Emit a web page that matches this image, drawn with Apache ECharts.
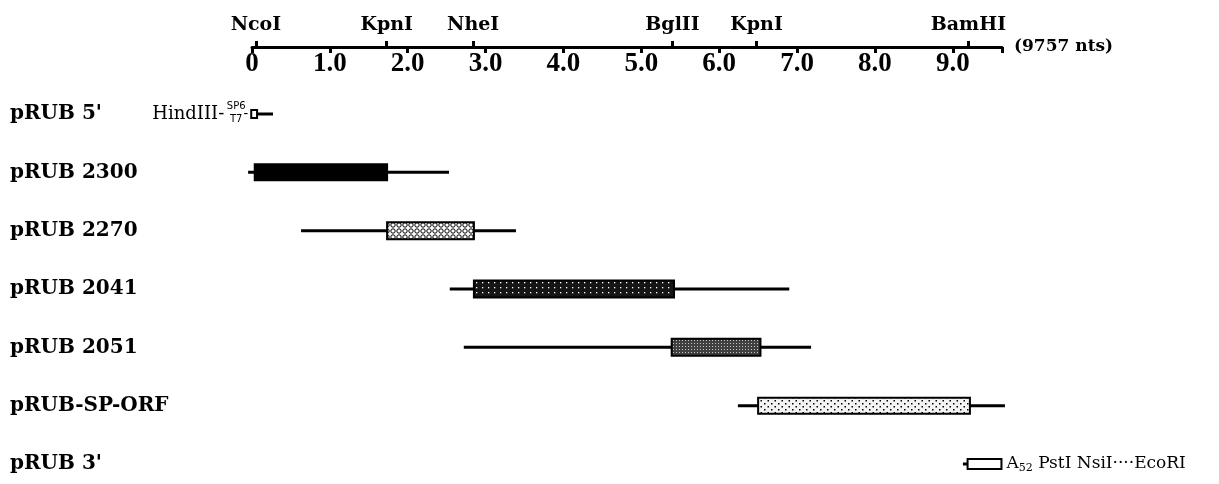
<!DOCTYPE html>
<html>
<head>
<meta charset="utf-8">
<script src="https://cdn.jsdelivr.net/npm/echarts@6/dist/echarts.min.js"></script>
<style>
html,body{margin:0;padding:0;background:#fff;}
#chart{width:1219px;height:484px;}
</style>
</head>
<body>
<div id="chart"></div>
<script>
// ---- data (kb along the 9757-nt genome) ----
const rows = ["pRUB 5'", 'pRUB 2300', 'pRUB 2270', 'pRUB 2041', 'pRUB 2051', 'pRUB-SP-ORF', "pRUB 3'"];
const lineStart = [0.065, -0.05, 0.63, 2.54, 2.72, 6.24, 9.13];
const lineEnd   = [0.27, 2.53, 3.39, 6.90, 7.18, 9.67, 9.19];
const boxStart  = [-0.01, 0.035, 1.735, 2.85, 5.39, 6.50, 9.19];
const boxEnd    = [0.065, 1.735, 2.85, 5.42, 6.53, 9.22, 9.625];
const scaleTicks = [0, 1, 2, 3, 4, 5, 6, 7, 8, 9];
const scaleTickLabels = ['0', '1.0', '2.0', '3.0', '4.0', '5.0', '6.0', '7.0', '8.0', '9.0'];
const genomeEnd = 9.632;
const siteNames = ['NcoI', 'KpnI', 'NheI', 'BglII', 'KpnI', 'BamHI'];
const sitePos   = [0.05, 1.73, 2.84, 5.40, 6.48, 9.20];
const lengthNote = '(9757 nts)';
const note5 = ['HindIII-', 'SP6', 'T7', '-'];
const note3 = ['A', '52', ' PstI NsiI····EcoRI'];

// ---- styles ----
function makePattern(w, h, bg, draw) {
  const c = document.createElement('canvas');
  c.width = w; c.height = h;
  const g = c.getContext('2d');
  g.fillStyle = bg; g.fillRect(0, 0, w, h);
  draw(g);
  return { image: c, repeat: 'repeat' };
}
const patSolid = '#000';
const pat2270 = makePattern(6, 6, '#fff', g => {
  g.strokeStyle = '#000'; g.lineWidth = 1;
  g.beginPath(); g.arc(3, 3, 2.2, 0, Math.PI * 2); g.stroke();
});
const pat2041 = makePattern(6, 5, '#151515', g => {
  g.fillStyle = '#fff'; g.fillRect(2, 2, 1.3, 1.3);
});
const pat2051 = makePattern(3, 3, '#404040', g => {
  g.fillStyle = '#c8c8c8'; g.fillRect(1, 1, 1, 1);
});
const patSP = makePattern(7, 6, '#f4f4f4', g => {
  g.fillStyle = '#000';
  g.fillRect(1, 1, 1.5, 1.5); g.fillRect(4.5, 4, 1.5, 1.5);
});
const rowFill = ['#fff', patSolid, pat2270, pat2041, pat2051, patSP, '#fff'];
const rowBoxH = [8, 16, 17, 17, 17, 16, 10];

const serifBold = { fontFamily: 'DejaVu Serif', fontWeight: 'bold', color: '#000' };

const seriesData = rows.map((r, i) => [i, lineStart[i], lineEnd[i], boxStart[i], boxEnd[i]]);

function renderRow(params, api) {
  const i = api.value(0);
  const y = api.coord([0, i])[1];
  const ls = api.coord([api.value(1), i])[0];
  const le = api.coord([api.value(2), i])[0];
  const bs = api.coord([api.value(3), i])[0];
  const be = api.coord([api.value(4), i])[0];
  const h = rowBoxH[i];
  const children = [
    { type: 'rect', shape: { x: ls, y: y - 1.5, width: le - ls, height: 3 }, style: { fill: '#000' } },
    { type: 'rect', shape: { x: bs, y: y - h / 2, width: be - bs, height: h },
      style: { fill: rowFill[i], stroke: '#000', lineWidth: 2 } }
  ];
  if (i === 0) {
    children.push(
      { type: 'text', x: bs - 27, y: y, style: { text: note5[0], fontFamily: 'DejaVu Serif', fontSize: 18, fill: '#000', align: 'right', verticalAlign: 'middle' } },
      { type: 'text', x: bs - 15, y: y - 8, style: { text: note5[1], fontFamily: 'DejaVu Sans', fontSize: 10, fill: '#000', align: 'center', verticalAlign: 'middle' } },
      { type: 'text', x: bs - 15, y: y + 5, style: { text: note5[2], fontFamily: 'DejaVu Sans', fontSize: 10, fill: '#000', align: 'center', verticalAlign: 'middle' } },
      { type: 'text', x: bs - 3, y: y, style: { text: note5[3], fontFamily: 'DejaVu Serif', fontSize: 14, fill: '#000', align: 'right', verticalAlign: 'middle' } }
    );
  }
  if (i === rows.length - 1) {
    children.push({
      type: 'text', x: be + 5, y: y,
      style: {
        text: '{a|' + note3[0] + '}{s|' + note3[1] + '}{a|' + note3[2] + '}',
        fill: '#000', align: 'left', verticalAlign: 'middle',
        rich: {
          a: { fontFamily: 'DejaVu Serif', fontSize: 17, lineHeight: 20, fill: '#000' },
          s: { fontFamily: 'DejaVu Serif', fontSize: 11, lineHeight: 11, verticalAlign: 'bottom', fill: '#000' }
        }
      }
    });
  }
  return { type: 'group', children };
}

const chart = echarts.init(document.getElementById('chart'));
chart.setOption({
  animation: false,
  backgroundColor: '#fff',
  grid: { left: 252, right: 217, top: 114, bottom: 20 },
  xAxis: [
    {
      type: 'value', min: 0, max: genomeEnd, position: 'top', offset: 67,
      axisLine: { show: true, onZero: false, lineStyle: { color: '#000', width: 3 } },
      axisTick: { show: true, inside: true, length: 6, lineStyle: { color: '#000', width: 3 },
                  customValues: scaleTicks.concat([genomeEnd]) },
      axisLabel: { show: true, inside: true, margin: 4, customValues: scaleTicks,
                   formatter: v => scaleTickLabels[scaleTicks.indexOf(Math.round(v))] || '',
                   fontFamily: 'Liberation Serif', fontWeight: 'bold', fontSize: 27, color: '#000' },
      splitLine: { show: false },
      name: lengthNote, nameLocation: 'end', nameGap: 12,
      nameTextStyle: { fontFamily: 'DejaVu Serif', fontWeight: 'bold', fontSize: 17, color: '#000' }
    },
    {
      type: 'value', min: 0, max: genomeEnd, position: 'top', offset: 67,
      axisLine: { show: false, onZero: false },
      axisTick: { show: true, inside: false, length: 6, lineStyle: { color: '#000', width: 3 },
                  customValues: sitePos },
      axisLabel: { show: true, margin: 12, customValues: sitePos,
                   formatter: v => { const k = sitePos.findIndex(p => Math.abs(p - v) < 1e-6); return k >= 0 ? siteNames[k] : ''; },
                   fontSize: 19, ...serifBold },
      splitLine: { show: false }
    }
  ],
  yAxis: {
    type: 'value', min: 0, max: rows.length - 1, interval: 1, inverse: true,
    axisLine: { show: false }, axisTick: { show: false }, splitLine: { show: false },
    axisLabel: { align: 'left', margin: 242, fontSize: 20, ...serifBold,
                 formatter: v => rows[v] || '' }
  },
  series: [{
    type: 'custom', xAxisIndex: 0, yAxisIndex: 0, clip: false,
    data: seriesData, encode: { x: [1, 2, 3, 4], y: 0 },
    renderItem: renderRow
  }]
});
</script>
</body>
</html>
